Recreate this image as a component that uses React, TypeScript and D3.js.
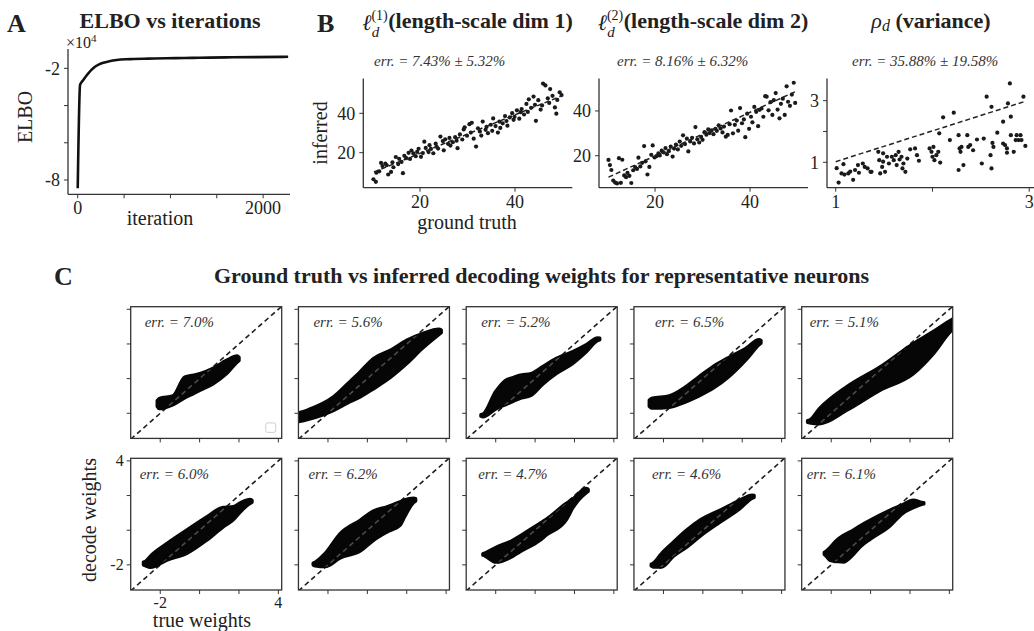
import React from 'react';
import * as d3 from 'd3';

const SERIF = '"Liberation Serif", "Times New Roman", Times, serif';
const INK = '#222';
const AXIS = '#333';

// ---------- A: ELBO trace (values in units of 1e4)
const elboIter = [0, 25, 40, 60, 85, 114, 150, 186, 230, 276, 340, 420, 520, 600, 760, 960, 1150, 1318, 1600, 1900, 2270];
const elboValue = [-8.45, -2.9, -2.75, -2.63, -2.45, -2.27, -2.07, -1.91, -1.79, -1.7, -1.62, -1.55, -1.51, -1.5, -1.48, -1.46, -1.445, -1.43, -1.41, -1.395, -1.38];
const elboXTicks = [0, 500, 1000, 1500, 2000];
const elboXTickLabels = ['0', '', '', '', '2000'];
const elboYTicks = [-2, -4, -6, -8];
const elboYTickLabels = ['-2', '', '', '-8'];

// ---------- B: ground truth vs inferred hyperparameters
const ls1Truth = [10.2, 10.7, 10.8, 11.4, 11.8, 12.1, 12.7, 13.0, 13.3, 13.9, 14.2, 14.4, 14.9, 15.4, 15.6, 16.1, 16.4, 16.7, 17.1, 17.6, 17.9, 18.2, 18.6, 19.1, 19.4, 19.7, 20.2, 20.6, 20.9, 21.2, 21.8, 22.0, 22.3, 22.8, 23.3, 23.5, 23.8, 24.3, 24.8, 25.0, 25.3, 25.9, 26.2, 26.4, 26.9, 27.4, 27.7, 27.9, 28.4, 28.9, 29.2, 29.4, 29.9, 30.4, 30.7, 30.9, 31.3, 31.8, 32.2, 32.6, 32.9, 33.2, 33.8, 34.0, 34.3, 34.9, 35.2, 35.4, 35.9, 36.4, 36.7, 36.9, 37.4, 37.9, 38.2, 38.4, 38.9, 39.4, 39.7, 39.9, 40.4, 40.9, 41.2, 41.4, 41.9, 42.4, 42.7, 42.9, 43.4, 43.9, 44.2, 44.4, 44.9, 45.4, 45.7, 45.9, 46.4, 46.9, 47.2, 47.4, 47.9, 48.4, 48.7, 48.9, 49.4, 49.8];
const ls1Inferred = [6.5, 5.2, 9.8, 10.5, 14.8, 13.2, 14.5, 13.6, 8.9, 10.2, 15.1, 12.6, 17.8, 14.2, 16.9, 15.3, 9.6, 18.4, 17.2, 19.9, 16.8, 21.1, 19.6, 18.2, 20.4, 22.0, 17.9, 19.8, 25.6, 22.4, 20.3, 23.8, 21.9, 19.7, 24.6, 23.0, 22.1, 28.2, 25.9, 21.2, 26.8, 24.5, 27.5, 23.6, 25.3, 27.9, 26.1, 22.3, 29.3, 26.7, 31.8, 32.9, 28.6, 34.5, 30.2, 35.2, 27.1, 23.1, 32.4, 30.8, 28.7, 35.8, 31.6, 33.1, 29.9, 34.2, 31.1, 37.4, 33.5, 30.2, 35.8, 32.6, 34.9, 38.6, 36.1, 33.7, 37.9, 40.1, 36.7, 38.2, 41.5, 37.3, 40.6, 42.2, 39.4, 44.8, 40.7, 47.1, 42.8, 48.5, 44.3, 36.2, 46.7, 41.9, 44.0, 55.1, 54.2, 47.6, 45.3, 52.3, 48.9, 43.0, 39.8, 46.8, 50.7, 49.3];
const ls1Fit = [[10.3, 10.2], [50.0, 49.0]];

const ls2Truth = [10.2, 10.5, 10.8, 11.2, 11.6, 12.0, 12.4, 12.8, 13.1, 13.5, 13.9, 14.2, 14.6, 15.0, 15.4, 15.8, 16.2, 16.5, 16.9, 17.3, 17.7, 18.0, 18.4, 18.8, 19.2, 19.5, 19.9, 20.3, 20.7, 21.0, 21.4, 21.8, 22.2, 22.5, 22.9, 23.3, 23.7, 24.0, 24.4, 24.8, 25.2, 25.5, 25.9, 26.3, 26.7, 27.0, 27.4, 27.8, 28.2, 28.5, 28.9, 29.3, 29.7, 30.0, 30.4, 30.8, 31.2, 31.5, 31.9, 32.3, 32.7, 33.0, 33.4, 33.8, 34.2, 34.5, 34.9, 35.3, 35.7, 36.0, 36.4, 36.8, 37.2, 37.5, 37.9, 38.3, 38.7, 39.0, 39.4, 39.8, 40.2, 40.5, 40.9, 41.3, 41.7, 42.0, 42.4, 42.8, 43.2, 43.5, 43.9, 44.3, 44.7, 45.0, 45.4, 45.8, 46.2, 46.5, 46.9, 47.3, 47.7, 48.0, 48.4, 48.8, 49.2, 49.5];
const ls2Inferred = [18.1, 15.8, 13.6, 8.9, 8.0, 7.6, 18.9, 7.9, 18.2, 11.2, 10.4, 12.3, 11.0, 7.8, 13.5, 14.9, 14.1, 19.1, 15.2, 16.8, 24.3, 17.5, 11.6, 15.0, 20.4, 24.6, 19.2, 19.8, 21.0, 20.1, 22.3, 21.5, 23.4, 20.7, 22.0, 24.1, 19.6, 23.2, 25.0, 22.8, 26.3, 24.4, 29.1, 25.2, 27.6, 21.9, 26.4, 28.0, 25.5, 32.8, 27.3, 25.9, 28.4, 27.1, 30.5, 29.4, 31.8, 30.1, 31.3, 29.6, 32.0, 31.1, 33.6, 32.2, 30.4, 33.0, 28.5, 29.3, 34.1, 40.2, 30.0, 33.8, 35.7, 31.2, 41.3, 34.5, 36.2, 28.3, 38.8, 32.0, 37.4, 34.9, 41.8, 39.6, 33.2, 40.5, 41.1, 37.4, 46.6, 46.4, 40.3, 43.9, 38.2, 44.8, 48.0, 40.6, 36.7, 43.2, 45.5, 38.2, 51.0, 44.1, 42.3, 47.3, 52.6, 43.6];
const ls2Fit = [[10.2, 10.4], [49.8, 48.9]];

const varTruth = [1.01, 1.03, 1.06, 1.08, 1.09, 1.13, 1.15, 1.18, 1.2, 1.23, 1.24, 1.28, 1.3, 1.33, 1.36, 1.37, 1.44, 1.45, 1.46, 1.48, 1.49, 1.49, 1.51, 1.53, 1.55, 1.58, 1.6, 1.62, 1.63, 1.65, 1.66, 1.68, 1.69, 1.7, 1.72, 1.74, 1.77, 1.82, 1.84, 1.86, 1.97, 1.99, 2.0, 2.01, 2.02, 2.04, 2.06, 2.07, 2.08, 2.11, 2.18, 2.22, 2.27, 2.27, 2.28, 2.29, 2.3, 2.32, 2.36, 2.37, 2.39, 2.42, 2.46, 2.51, 2.53, 2.56, 2.6, 2.61, 2.62, 2.63, 2.61, 2.67, 2.73, 2.73, 2.75, 2.77, 2.77, 2.78, 2.8, 2.81, 2.81, 2.84, 2.86, 2.87, 2.89, 2.91, 2.92, 2.94, 2.96];
const varInferred = [0.81, 0.34, 0.64, 0.94, 0.6, 0.64, 0.7, 0.43, 0.75, 0.91, 0.66, 0.96, 0.85, 0.8, 0.69, 0.69, 1.34, 1.07, 0.64, 0.85, 1.29, 1.02, 0.69, 1.18, 0.96, 1.18, 1.07, 1.23, 0.91, 1.34, 1.09, 1.18, 0.8, 0.96, 0.69, 1.12, 1.42, 1.45, 1.23, 1.05, 1.45, 1.34, 1.18, 1.5, 1.07, 1.23, 1.34, 1.94, 0.99, 2.46, 1.72, 2.61, 1.88, 0.75, 1.45, 1.34, 1.5, 0.91, 1.88, 1.5, 1.56, 1.39, 1.74, 0.96, 1.77, 3.13, 1.23, 0.8, 1.63, 1.5, 2.8, 1.96, 2.32, 1.61, 1.56, 1.45, 1.31, 2.91, 3.56, 2.48, 1.88, 1.34, 1.72, 1.88, 1.72, 1.88, 1.72, 3.13, 1.53];
const varFit = [[1.0, 1.02], [2.95, 2.97]];

const bErrLabels = ['err. = 7.43% ± 5.32%', 'err. = 8.16% ± 6.32%', 'err. = 35.88% ± 19.58%'];

// ---------- C: decoding weights per neuron, as (true weight, lower decoded, upper decoded) envelopes
const neuronErr = ['7.0', '5.6', '5.2', '6.5', '5.1', '6.0', '6.2', '4.7', '4.6', '6.1'];
const neuronTrue = [
  [-2.15, -2.05, -1.35, -0.75, -0.3, 0.02, 0.69, 1.37, 1.91, 2.0],
  [-3.55, -3.0, -1.72, -1.0, -0.37, 0.31, 1.2, 2.0, 2.8, 3.64, 3.75],
  [-2.75, -2.65, -2.0, -1.5, -1.1, -0.8, -0.2, 0.4, 1.07, 1.9, 2.6, 3.18, 3.28],
  [-2.72, -2.6, -1.7, -0.9, -0.2, 0.53, 1.3, 2.2, 2.85, 2.95],
  [-3.2, -3.1, -2.6, -1.22, 0.48, 2.17, 3.19, 4.12, 4.5],
  [-2.85, -2.75, -2.5, -1.67, -0.66, 0.36, 1.2, 1.71, 2.1, 2.56, 2.66],
  [-2.75, -2.65, -2.15, -1.38, -0.37, 0.31, 1.0, 1.67, 1.9, 2.35, 2.45],
  [-2.65, -2.55, -2.0, -1.13, -0.79, 0.22, 0.56, 1.58, 1.92, 2.59, 2.69],
  [-2.62, -2.52, -2.1, -1.5, -0.82, -0.15, 0.87, 1.88, 2.5, 2.6],
  [-2.35, -2.25, -2.06, -1.72, -1.39, -0.88, -0.54, 0.0, 0.98, 1.6, 2.16, 2.6, 2.7],
];
const neuronLow = [
  [-1.6, -1.73, -1.5, -1.1, -0.85, -0.67, -0.29, 0.29, 0.96, 1.05],
  [-2.5, -2.35, -1.83, -1.4, -1.06, -0.58, 0.1, 0.87, 1.75, 2.55, 2.65],
  [-2.17, -2.2, -1.75, -1.5, -1.3, -1.15, -0.96, -0.3, 0.29, 0.87, 1.55, 2.2, 2.24],
  [-1.6, -1.7, -1.65, -1.35, -1.0, -0.55, 0.1, 1.1, 1.95, 2.05],
  [-2.52, -2.55, -2.6, -1.83, -0.67, 0.29, 1.45, 2.79, 3.1],
  [-2.0, -2.05, -2.14, -1.72, -1.34, -0.57, 0.2, 0.6, 1.1, 1.55, 1.62],
  [-2.0, -2.05, -2.1, -1.6, -1.2, -0.58, -0.1, 0.3, 0.8, 1.6, 1.68],
  [-1.44, -1.48, -1.84, -1.5, -1.26, -0.6, -0.29, 0.6, 1.3, 2.16, 2.24],
  [-2.06, -2.12, -2.12, -1.5, -0.97, -0.35, 0.47, 1.25, 1.85, 1.9],
  [-1.4, -1.5, -1.74, -1.8, -1.84, -1.4, -0.97, -0.5, 0.25, 0.95, 1.3, 1.5, 1.52],
];
const neuronHigh = [
  [-1.28, -1.15, -1.0, 0.09, 0.2, 0.29, 0.6, 1.05, 1.3, 1.22],
  [-2.0, -1.8, -1.06, -0.3, 0.38, 1.16, 1.65, 2.21, 2.6, 2.85, 2.8],
  [-2.08, -2.05, -0.75, -0.1, 0.05, 0.19, 0.29, 0.7, 1.16, 1.54, 1.95, 2.35, 2.33],
  [-1.25, -1.15, -1.0, -0.5, 0.1, 0.7, 1.2, 1.75, 2.25, 2.2],
  [-2.43, -2.4, -1.74, -0.48, 0.67, 2.02, 2.72, 3.4, 3.6],
  [-1.85, -1.8, -1.5, -0.78, 0.0, 0.77, 1.31, 1.35, 1.6, 1.77, 1.73],
  [-1.9, -1.85, -1.35, -0.2, 0.57, 1.1, 1.35, 1.63, 1.75, 1.85, 1.82],
  [-1.36, -1.32, -1.0, -0.58, -0.35, 0.38, 0.62, 1.54, 1.8, 2.41, 2.36],
  [-1.96, -1.9, -1.35, -0.7, 0.0, 0.57, 1.15, 1.73, 2.02, 2.0],
  [-1.28, -1.2, -1.0, -0.58, -0.3, 0.0, 0.25, 0.59, 1.15, 1.45, 1.73, 1.6, 1.58],
];
const weightTicks = [-2, 0, 2, 4];
const weightTickLabels = ['-2', '', '', '4'];

// layout
const A_BOX = { left: 68, right: 290, top: 49, bottom: 194.3 };
const B_LEFTS = [363.3, 599, 827];
const B_W = 209;
const B_TOP = 78.5;
const B_BOTTOM = 187.7;
const B_ERR_X = [374, 617, 852];
const C_LEFT = 130.7;
const C_STEP = 167.75;
const C_W = 151;
const C_TOPS = [306.7, 458.3];
const C_H = 131.7;
const C_ERR_DX = [[14, 15, 15, 21, 8], [9, 10, 12, 18, 5]];

type Scale = d3.ScaleLinear<number, number>;
type Box = { left: number; right: number; top: number; bottom: number };

function OpenAxes(props: {
  box: Box; x: Scale; y: Scale; labelGap: number;
  xTicks: number[]; xLabels: string[]; yTicks: number[]; yLabels: string[];
}) {
  const { box, x, y } = props;
  return (
    <g stroke={AXIS} strokeWidth={1}>
      <line x1={box.left} x2={box.left} y1={box.top} y2={box.bottom} strokeWidth={1.3} />
      <line x1={box.left} x2={box.right} y1={box.bottom} y2={box.bottom} strokeWidth={1.3} />
      {props.xTicks.map((t, i) => (
        <g key={'x' + i}>
          <line x1={x(t)} x2={x(t)} y1={box.bottom} y2={box.bottom + 4} />
          {props.xLabels[i] && (
            <text x={x(t)} y={box.bottom + props.labelGap} textAnchor="middle" fontSize={18} fill={INK} stroke="none">
              {props.xLabels[i]}
            </text>
          )}
        </g>
      ))}
      {props.yTicks.map((t, i) => (
        <g key={'y' + i}>
          <line x1={box.left - 4} x2={box.left} y1={y(t)} y2={y(t)} />
          {props.yLabels[i] && (
            <text x={box.left - 8} y={y(t)} dy="0.35em" textAnchor="end" fontSize={18} fill={INK} stroke="none">
              {props.yLabels[i]}
            </text>
          )}
        </g>
      ))}
    </g>
  );
}

function ElboPanel() {
  const x = d3.scaleLinear().domain([-105, 2290]).range([A_BOX.left, A_BOX.right]);
  const y = d3.scaleLinear().domain([-8.77, -0.96]).range([A_BOX.bottom, A_BOX.top]);
  const line = d3.line<number>().x((d, i) => x(elboIter[i])).y(d => y(d)).curve(d3.curveMonotoneX);
  return (
    <g>
      <text x={7} y={32} fontSize={26} fontWeight="bold" fill={INK}>A</text>
      <text x={170} y={28.3} fontSize={22} fontWeight="bold" textAnchor="middle" fill={INK}>ELBO vs iterations</text>
      <OpenAxes box={A_BOX} x={x} y={y} labelGap={19.5} xTicks={elboXTicks} xLabels={elboXTickLabels}
        yTicks={elboYTicks} yLabels={elboYTickLabels} />
      <path d={line(elboValue) || ''} fill="none" stroke="#111" strokeWidth={2.6} strokeLinejoin="round" />
      <text x={66} y={48} fontSize={16} fill={INK}>×10<tspan fontSize={11} dy={-6}>4</tspan></text>
      <text transform={`translate(32,117) rotate(-90)`} textAnchor="middle" fontSize={20} fill={INK}>ELBO</text>
      <text x={160} y={225} textAnchor="middle" fontSize={20} fill={INK}>iteration</text>
    </g>
  );
}

function ScatterPanel(props: {
  idx: number; truth: number[]; inferred: number[]; fit: number[][];
  xDomain: number[]; yDomain: number[]; ticks: number[]; tickLabels: string[];
}) {
  const left = B_LEFTS[props.idx];
  const box = { left, right: left + B_W, top: B_TOP, bottom: B_BOTTOM };
  const x = d3.scaleLinear().domain(props.xDomain).range([box.left, box.right]);
  const y = d3.scaleLinear().domain(props.yDomain).range([box.bottom, box.top]);
  const fitLine = d3.line<number[]>().x(d => x(d[0])).y(d => y(d[1]));
  return (
    <g>
      <text x={B_ERR_X[props.idx]} y={66} fontSize={15} fontStyle="italic" fill={AXIS}>{bErrLabels[props.idx]}</text>
      <OpenAxes box={box} x={x} y={y} labelGap={20.5} xTicks={props.ticks} xLabels={props.tickLabels}
        yTicks={props.ticks} yLabels={props.tickLabels} />
      {props.truth.map((t, i) => (
        <circle key={i} cx={x(t)} cy={y(props.inferred[i])} r={2.1} fill="#1a1a1a" />
      ))}
      <path d={fitLine(props.fit) || ''} fill="none" stroke="#222" strokeWidth={1.5} strokeDasharray="5,3" />
    </g>
  );
}

function WeightPanel(props: { n: number }) {
  const n = props.n;
  const row = Math.floor(n / 5);
  const col = n % 5;
  const left = C_LEFT + col * C_STEP;
  const top = C_TOPS[row];
  const box = { left, right: left + C_W, top, bottom: top + C_H };
  const x = d3.scaleLinear().domain([-3.5, 4.17]).range([box.left, box.right]);
  const y = d3.scaleLinear().domain([-3.45, 4.15]).range([box.bottom, box.top]);
  const pts = neuronTrue[n].map((t, i) => ({ t, lo: neuronLow[n][i], hi: neuronHigh[n][i] }));
  const area = d3.area<{ t: number; lo: number; hi: number }>()
    .x(d => x(d.t)).y0(d => y(d.lo)).y1(d => y(d.hi)).curve(d3.curveMonotoneX);
  const blob = area(pts) || '';
  const diag = `M${x(-3.5)},${y(-3.5)}L${x(4.17)},${y(4.17)}`;
  const showLabels = row === 1 && col === 0;
  return (
    <g>
      <defs>
        <clipPath id={`frame-${n}`}><rect x={box.left} y={box.top} width={C_W} height={C_H} /></clipPath>
        <clipPath id={`blob-${n}`}><path d={blob} /></clipPath>
      </defs>
      <g clipPath={`url(#frame-${n})`}>
        <path d={diag} stroke="#1e1e1e" strokeWidth={1.6} strokeDasharray="5,3.5" fill="none" />
        <path d={blob} fill="#060606" stroke="#060606" strokeWidth={3.5} strokeLinejoin="round" />
        <path d={diag} stroke="#4a4a4a" strokeWidth={1.6} strokeDasharray="5,3.5" fill="none" clipPath={`url(#blob-${n})`} />
      </g>
      <rect x={box.left} y={box.top} width={C_W} height={C_H} fill="none" stroke={AXIS} strokeWidth={1.3} />
      {weightTicks.map((t, i) => (
        <g key={i} stroke={AXIS} strokeWidth={1}>
          <line x1={x(t)} x2={x(t)} y1={box.bottom} y2={box.bottom + 4} />
          <line x1={box.left - 4} x2={box.left} y1={y(t)} y2={y(t)} />
          {showLabels && weightTickLabels[i] && (
            <>
              <text x={x(t)} y={box.bottom + 18} textAnchor="middle" fontSize={16} fill={INK} stroke="none">{weightTickLabels[i]}</text>
              <text x={box.left - 7} y={y(t)} dy="0.35em" textAnchor="end" fontSize={16} fill={INK} stroke="none">{weightTickLabels[i]}</text>
            </>
          )}
        </g>
      ))}
      <text x={box.left + C_ERR_DX[row][col]} y={box.top + 20.5} fontSize={15} fontStyle="italic" fill={AXIS}>
        {`err. = ${neuronErr[n]}%`}
      </text>
      {n === 0 && (
        <rect x={box.right - 16} y={box.bottom - 15.5} width={10} height={9.5} rx={2}
          fill="#fff" stroke="#cfcfcf" strokeWidth={1} />
      )}
    </g>
  );
}

function LengthScaleTitle(props: { x: number; dim: string }) {
  return (
    <text x={props.x} y={28.3} fontSize={22} fontWeight="bold" textAnchor="middle" fill={INK}>
      <tspan fontStyle="italic" fontWeight="normal" dy={1.5}>ℓ</tspan>
      <tspan fontWeight="normal" fontSize={14} dy={-10}>{`(${props.dim})`}</tspan>
      <tspan fontWeight="normal" fontStyle="italic" fontSize={15} dx={-16} dy={17}>d</tspan>
      <tspan dx={9} dy={-8.5}>{`(length-scale dim ${props.dim})`}</tspan>
    </text>
  );
}

export default function App() {
  return (
    <svg width={1034} height={631} viewBox="0 0 1034 631"
      style={{ position: 'absolute', left: 0, top: 0, background: '#fff' }}
      fontFamily={SERIF}>
      <ElboPanel />

      <text x={317} y={32} fontSize={26} fontWeight="bold" fill={INK}>B</text>
      <LengthScaleTitle x={467.5} dim="1" />
      <LengthScaleTitle x={703} dim="2" />
      <text x={931} y={28.3} fontSize={22} fontWeight="bold" textAnchor="middle" fill={INK}>
        <tspan fontStyle="italic" fontWeight="normal">ρ</tspan>
        <tspan fontStyle="italic" fontWeight="normal" fontSize={16} dy={3}>d</tspan>
        <tspan dy={-3}> (variance)</tspan>
      </text>

      <ScatterPanel idx={0} truth={ls1Truth} inferred={ls1Inferred} fit={ls1Fit}
        xDomain={[8.06, 52.06]} yDomain={[2.2, 57.7]} ticks={[20, 40]} tickLabels={['20', '40']} />
      <ScatterPanel idx={1} truth={ls2Truth} inferred={ls2Inferred} fit={ls2Fit}
        xDomain={[8.2, 52.2]} yDomain={[5.7, 54.5]} ticks={[20, 40]} tickLabels={['20', '40']} />
      <ScatterPanel idx={2} truth={varTruth} inferred={varInferred} fit={varFit}
        xDomain={[0.91, 3.07]} yDomain={[0.175, 3.72]} ticks={[1, 2, 3]} tickLabels={['1', '', '3']} />
      <text transform="translate(327,133) rotate(-90)" textAnchor="middle" fontSize={20} fill={INK}>inferred</text>
      <text x={467} y={229} textAnchor="middle" fontSize={20} fill={INK}>ground truth</text>

      <text x={54} y={285} fontSize={26} fontWeight="bold" fill={INK}>C</text>
      <text x={541.5} y={283} fontSize={22} fontWeight="bold" textAnchor="middle" fill={INK}>
        Ground truth vs inferred decoding weights for representative neurons
      </text>
      {neuronErr.map((_, n) => <WeightPanel key={n} n={n} />)}
      <text transform="translate(95.5,520) rotate(-90)" textAnchor="middle" fontSize={20} fill={INK}>decode weights</text>
      <text x={202} y={627} textAnchor="middle" fontSize={20} fill={INK}>true weights</text>
    </svg>
  );
}
